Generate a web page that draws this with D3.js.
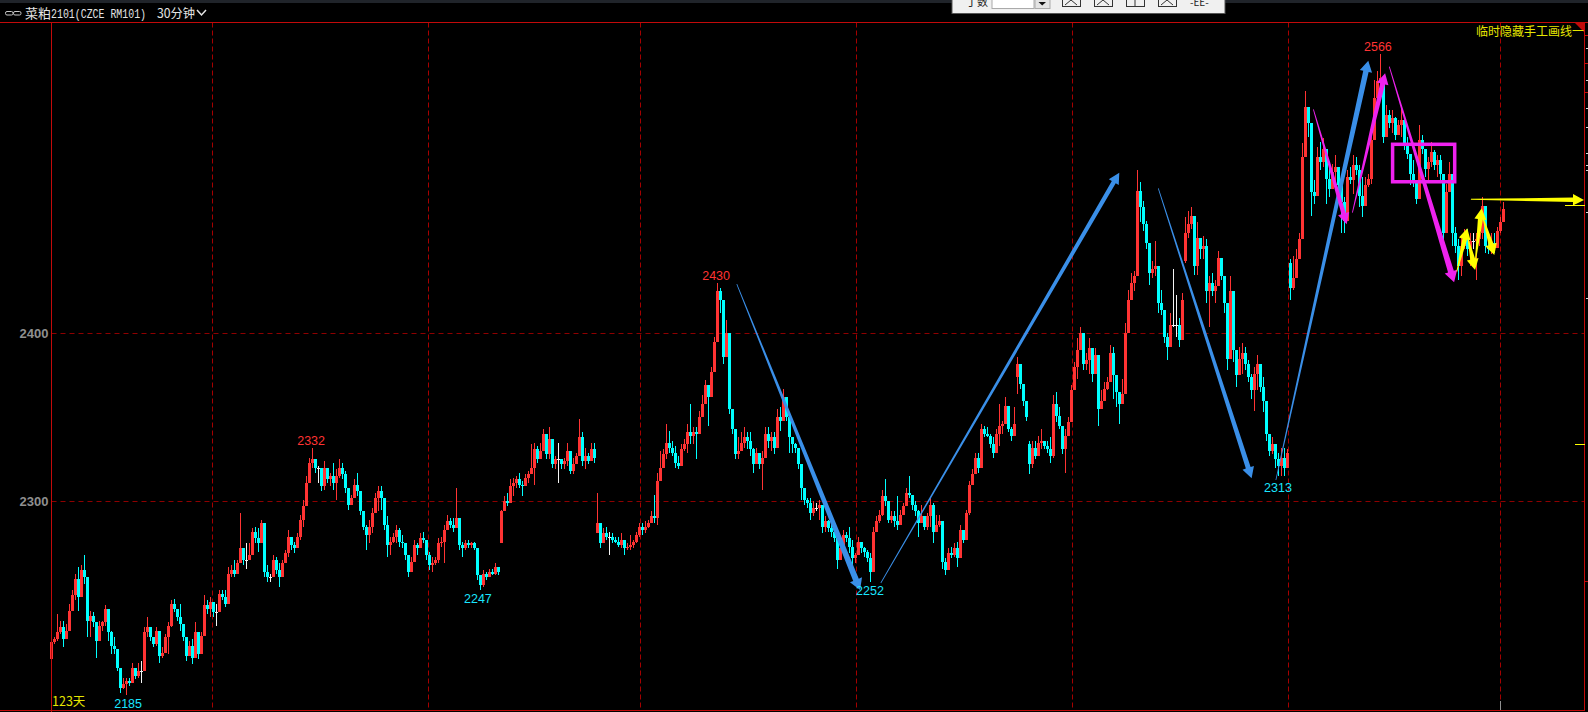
<!DOCTYPE html>
<html><head><meta charset="utf-8">
<script src="https://cdn.jsdelivr.net/npm/d3@7"></script>
<style>html,body{margin:0;padding:0;background:#000;overflow:hidden}svg{display:block}</style>
</head><body><svg id="c" width="1588" height="712"></svg>
<script>
// ---------- candle data, leg by leg (a new leg starts where the price chart jumps) ----------
const legAOpen=2206;
const legAHighs=[2217,2219,2233,2229,2229,2227,2239,2247,2257,2261,2262,2268,2251,2235,2234,2225,2229,2229,2238,2235,2223,2219,2205,2197,2195,2195,2195,2204,2199,2204,2205,2225,2231,2224,2219,2225,2217,2213,2221,2228,2241,2242,2235,2239,2224,2217,2217,2218,2228,2217,2222,2244,2241,2243,2239,2239,2247,2247,2247,2261,2262,2265,2265,2293,2269,2275,2275,2284,2285,2284,2289,2286,2262,2257,2268,2267,2263,2265,2271,2283,2279,2276,2281,2292,2301,2315,2326,2332,2325,2321,2317,2324,2320,2317,2323,2319,
2325,2323,2318,2305,2304,2313,2317,2303,2293,2286,2289,2296,2305,2309,2309,2301,2291,2279,2281,2286,2284,2280,2275,2267,2267,2277,2275,2281,2282,2277,2270,2267,2267,2278,2279,2286,2292,2290,2290,2308,2282,2276,2277,2277,2276,2276,2270,2254,2259,2258,2260,2260,2263,2260];
const legALows=[2204,2215,2217,2221,2213,2219,2227,2237,2241,2235,2251,2251,2219,2219,2225,2207,2217,2223,2226,2217,2209,2209,2199,2186,2188,2185,2190,2194,2194,2195,2192,2204,2219,2217,2213,2214,2204,2207,2211,2209,2225,2234,2229,2223,2217,2205,2209,2203,2211,2206,2215,2223,2233,2231,2231,2226,2241,2241,2237,2239,2255,2255,2259,2267,2262,2260,2265,2275,2275,2270,2281,2255,2252,2252,2257,2257,2249,2260,2263,2267,2271,2269,2273,2277,2285,2302,2313,2320,2317,2311,2306,2307,2311,2309,2307,2301,
2314,2313,2305,2295,2298,2303,2303,2292,2283,2271,2275,2281,2293,2294,2295,2283,2267,2268,2275,2275,2273,2272,2265,2255,2261,2265,2268,2272,2275,2265,2259,2258,2262,2263,2273,2263,2283,2284,2282,2287,2271,2267,2271,2272,2272,2271,2253,2247,2249,2253,2256,2256,2256,2256];
const legACloses=[2216,2218,2222,2225,2218,2223,2235,2244,2254,2243,2259,2255,2229,2232,2228,2217,2226,2228,2236,2222,2214,2212,2201,2189,2191,2193,2192,2201,2196,2199,2199,2222,2225,2219,2215,2223,2208,2210,2219,2226,2239,2236,2231,2227,2219,2208,2214,2207,2222,2209,2220,2238,2236,2240,2234,2234,2245,2243,2239,2257,2259,2257,2263,2272,2265,2265,2268,2282,2278,2275,2287,2258,2255,2255,2265,2259,2255,2263,2269,2279,2274,2272,2279,2289,2297,2311,2323,2325,2320,2320,2309,2320,2313,2315,2311,2315,
2320,2316,2308,2298,2302,2310,2306,2294,2285,2280,2285,2293,2302,2306,2302,2286,2274,2276,2279,2283,2276,2275,2268,2258,2264,2274,2272,2278,2277,2268,2262,2263,2265,2275,2276,2283,2288,2286,2284,2290,2274,2272,2275,2274,2275,2272,2256,2250,2257,2255,2258,2257,2261,2258];

const legBOpen=2275;
const legBHighs=[2295,2303,2305,2313,2314,2315,2317,2312,2316,2318,2334,2335,2333,2335,2343,2340,2344,2328,2327,2335,2325,2326,2335,2325,2326,2329,2349,2341,2332,2329,2335,2335];
const legBLows=[2275,2295,2297,2301,2303,2308,2308,2303,2311,2311,2316,2310,2323,2327,2331,2325,2325,2320,2319,2311,2319,2319,2321,2316,2316,2323,2331,2321,2319,2322,2325,2323];
const legBCloses=[2294,2300,2299,2309,2311,2313,2310,2309,2314,2316,2320,2331,2325,2330,2340,2328,2337,2322,2325,2325,2322,2324,2330,2318,2322,2327,2338,2324,2327,2324,2331,2326];

const legCOpen=2281;
const legCHighs=[2305,2287,2284,2285,2282,2281,2279,2279,2281,2277,2275,2280,2277,2282,2287,
2287,2288,2289,2294,2304,2317,2330,2331,2346,2342,2336,2333,2327,2334,2337,2346,2358,2344,2344,2354,2363,2372,2369,2380,2398,2430,2427,2403,2408,2387,2352,2341,2338,2341,2344,2341,2341,2332,2332,2327,2330,2344,2344,2341,2341,2355,2356,2367,2356,2346,2338,2335,2329,2312,2307,2302,2302,2300,2299,2301,2295,2291,2289,2287,2285,2277,2277,2283,2282,2285,2277,2269,2279,2275,2273,2271,2269,2285,2291,2295,2307,2313,2293,2294,2294,2303,2295,2299,2308,2315,2302,2300,2295,2298,2289,2293,2302,2299,2292,2292,
2283,2266,2272,2273,2275,2276,2286,2279,2295,2312,2319,2329,2329,2346,2345,2344,2340,2338,2343,2358,2348,2362,2350,2344,2356];
const legCLows=[2281,2272,2279,2277,2268,2275,2275,2273,2272,2268,2271,2271,2272,2275,2279,
2280,2281,2284,2288,2287,2286,2315,2320,2325,2329,2327,2320,2319,2325,2330,2329,2334,2334,2325,2346,2350,2360,2345,2370,2388,2412,2412,2382,2393,2352,2340,2325,2325,2330,2332,2331,2327,2317,2323,2319,2307,2332,2332,2330,2328,2340,2342,2352,2348,2329,2329,2329,2319,2301,2298,2296,2289,2291,2294,2289,2281,2282,2282,2279,2276,2260,2266,2277,2276,2269,2261,2263,2271,2269,2267,2264,2252,2268,2285,2287,2291,2297,2287,2287,2285,2283,2287,2293,2299,2302,2295,2291,2279,2289,2283,2283,2285,2275,2283,2285,
2260,2256,2266,2266,2267,2261,2273,2275,2284,2292,2312,2317,2317,2331,2338,2338,2332,2326,2333,2333,2340,2346,2341,2336,2341];
const legCCloses=[2287,2275,2281,2279,2279,2277,2276,2274,2277,2272,2273,2274,2276,2280,2285,
2283,2285,2287,2291,2290,2312,2320,2328,2335,2332,2329,2323,2321,2331,2334,2341,2339,2341,2340,2350,2358,2369,2362,2377,2395,2425,2420,2386,2400,2355,2343,2328,2330,2335,2338,2336,2331,2322,2329,2322,2326,2340,2336,2338,2332,2350,2348,2362,2350,2338,2334,2332,2322,2308,2301,2299,2293,2296,2296,2298,2285,2288,2284,2282,2278,2265,2272,2280,2278,2273,2266,2268,2276,2272,2270,2266,2258,2282,2288,2292,2303,2300,2289,2291,2288,2286,2292,2297,2305,2304,2298,2294,2287,2291,2285,2291,2298,2282,2286,2288,
2264,2259,2269,2268,2272,2266,2283,2277,2293,2310,2316,2326,2320,2343,2340,2339,2334,2329,2340,2345,2346,2357,2343,2339,2346];

const legDOpen=2374;
const legDHighs=[2386,2376,2368,2358];
const legDLows=[2364,2367,2357,2348];
const legDCloses=[2382,2370,2360,2350];

const legEOpen=2334;
const legEHighs=[2336,2336,2336,2339,2343,2336,2336,2338,2363,2365,2356,2343,2343,2350,2369,2383,2397,2404,2397,2388,2397,2390,2391,2370,2366,2371,2374,2393,2392,2373,2363,
2373,2406,2426,2436,2437,2497,2490,2479,2467,2450,2443,2455,2435,2426,2410,2400,2412,2438,2423,2409,2424];
const legELows=[2316,2320,2325,2330,2331,2331,2329,2323,2326,2347,2343,2328,2317,2340,2356,2368,2373,2390,2378,2378,2376,2371,2383,2345,2356,2361,2366,2372,2361,2356,2346,
2359,2368,2406,2421,2425,2456,2466,2461,2450,2429,2433,2434,2412,2411,2394,2384,2400,2404,2398,2392,2406];
const legECloses=[2322,2332,2327,2335,2336,2333,2331,2327,2358,2351,2345,2331,2339,2347,2366,2380,2390,2400,2382,2384,2391,2376,2387,2355,2360,2367,2371,2388,2375,2365,2358,
2364,2400,2420,2430,2434,2485,2475,2465,2454,2436,2438,2440,2418,2414,2398,2392,2405,2405,2405,2396,2420];

const legFOpen=2443;
const legFHighs=[2469,2473,2475,2451,2466,2457,2458,2456,2434,2436,2432,2449,2442,2432,2406,2434,2418,2388,2392,2394,2392,2384,2376,2380,2387,2374,2374,2351,2338,2338,2334,2329,2332,2332,2331];
const legFLows=[2442,2457,2462,2435,2435,2444,2444,2418,2404,2422,2418,2430,2432,2412,2378,2406,2383,2368,2382,2376,2378,2371,2361,2354,2366,2365,2353,2336,2327,2328,2320,2315,2315,2315,2322];
const legFCloses=[2460,2465,2470,2440,2457,2450,2452,2425,2430,2425,2428,2445,2434,2418,2385,2425,2390,2375,2385,2388,2382,2374,2366,2376,2382,2368,2360,2340,2330,2334,2325,2321,2326,2320,2329];

const legGOpen=2442;
const legGHighs=[2444,2446,2450,2460,2513,2544,2534,2513,2491,2511,2514,2516,2509,2501,2501,2506,2493,2489,2481,2497,2499,2506,2505,2500,2493,2493,2495,2519,2551,2556,2566,2529,2536,2533,2533,2529,2527,2535,2521,2517,2503,2503,2489,2524,2518,2509,2505,2514,2509,2506,2506,2491,2489,2502,2475,2463,2456,2458,2462,2462,2460,2460,2460,2463,2481,2458,2458,2460,2460,2463,2469,2478];
const legGLows=[2420,2426,2436,2444,2460,2513,2517,2470,2477,2491,2497,2499,2477,2481,2493,2487,2483,2460,2460,2481,2489,2483,2494,2475,2469,2483,2487,2489,2523,2535,2543,2513,2519,2522,2519,2515,2521,2517,2509,2504,2488,2487,2477,2487,2507,2493,2491,2499,2497,2493,2491,2453,2469,2485,2452,2448,2432,2434,2450,2446,2440,2450,2432,2452,2456,2448,2447,2447,2448,2456,2460,2467];
const legGCloses=[2427,2433,2444,2456,2505,2535,2525,2484,2482,2505,2502,2510,2492,2486,2496,2499,2488,2478,2467,2493,2491,2500,2497,2482,2476,2488,2492,2515,2540,2550,2552,2517,2530,2525,2528,2518,2524,2527,2512,2507,2495,2491,2480,2515,2510,2498,2502,2508,2500,2503,2495,2460,2484,2495,2460,2452,2440,2452,2456,2450,2455,2455,2456,2460,2476,2452,2450,2454,2451,2461,2466,2474];

const legs=[
 [legAOpen,legAHighs,legALows,legACloses],[legBOpen,legBHighs,legBLows,legBCloses],
 [legCOpen,legCHighs,legCLows,legCCloses],[legDOpen,legDHighs,legDLows,legDCloses],
 [legEOpen,legEHighs,legELows,legECloses],[legFOpen,legFHighs,legFLows,legFCloses],
 [legGOpen,legGHighs,legGLows,legGCloses]];

// ---------- axes and annotation data ----------
const priceTicks=[2300,2400];
const gridBars=[53.7,125.7,196.4,268.4,340.4,412.4,483.2];
const highLabels=[[86.7,2332],[221.7,2430],[442.3,2566]];
const lowLabels=[[25.7,2185],[142.3,2247],[273,2252],[409,2313]];
const blueArrows=[[228.6,2429.3,269.7,2247.2,6],[276.6,2251.4,356.1,2495.6,4.5],[369.1,2486.3,400.2,2313.7,5],[408.3,2312.7,439.1,2562.3,5.5]];
const magentaArrows=[[420.8,2533.3,431.9,2464.9,4.5],[433.8,2471.8,444.7,2554.8,5],[446.1,2558.7,467.7,2430.4,6]];
const yellowArrows=[[468.6,2436.7,472.1,2462.5,5],[472.3,2456.7,474.7,2437.7,5],[474.7,2441.8,476.9,2474.4,5],[477.2,2469.4,481.1,2446.6,5],[473.3,2479.8,511,2479.4,4.5]];
const boxBars=[447.2,467.9], boxPrices=[2512.5,2490.2];
const redScaleTicks=[2577.6,2560.9,2543.6,2252.6];
const whiteScaleTicks=[2569.8,2550.8,2534,2522.8,2507.3,2500.2,2497.2,2472.2,2421];
const yellowMarks=[2476.2,2334];
const chartTitle="菜粕", chartCode="2101(CZCE RM101)", period="30分钟", dayCount="123天", hideLabel="临时隐藏手工画线一";

// ---------- build ----------
const candles=[];
legs.forEach(([first,hi,lo,cl])=>{let o=first;
  cl.forEach((c,k)=>{candles.push({o,c,h:Math.max(hi[k],o,c),l:Math.min(lo[k],o,c)});o=c;});});
const svg=d3.select("#c");
const L=51.5,R=1584.5,T=22.5,B=710.5;
const x=d3.scaleLinear().domain([0,484]).range([51,1503]);
const y=d3.scaleLinear().domain([2300,2400]).range([501.3,333.3]);
const RED="#ff3333",CYAN="#00ffff",FRAME="#c20a0a",GRID="#8e0000";
const col=d=>d.c>d.o?RED:d.c<d.o?CYAN:"#f4f4f4";
svg.append("rect").attr("width",1588).attr("height",712).attr("fill","#000");
svg.append("rect").attr("width",1588).attr("height",3).attr("fill","#20242a");

// grid
svg.append("g").selectAll("line").data(priceTicks).join("line")
 .attr("x1",L).attr("x2",R).attr("y1",d=>Math.floor(y(d))+.5).attr("y2",d=>Math.floor(y(d))+.5)
 .attr("stroke",GRID).attr("stroke-dasharray","5,4");
svg.append("g").selectAll("line").data(gridBars).join("line")
 .attr("x1",d=>Math.floor(x(d))+.5).attr("x2",d=>Math.floor(x(d))+.5).attr("y1",T).attr("y2",B)
 .attr("stroke","#a50000").attr("stroke-dasharray","5,3");

// axis labels
const ax=svg.append("g").attr("transform",`translate(${L},0)`)
 .call(d3.axisLeft(y).tickValues(priceTicks).tickFormat(d3.format("d")).tickSize(0).tickPadding(3));
ax.select(".domain").remove();
ax.selectAll("text").attr("fill","#8f8f8f").attr("font-family","Liberation Sans").attr("font-size",13).attr("font-weight","bold");

// candles
const g=svg.append("g").attr("shape-rendering","crispEdges");
g.selectAll("line").data(candles).join("line")
 .attr("x1",(d,i)=>Math.round(x(i))+.5).attr("x2",(d,i)=>Math.round(x(i))+.5)
 .attr("y1",d=>y(d.h)).attr("y2",d=>y(d.l)).attr("stroke",col);
g.selectAll("rect").data(candles).join("rect")
 .attr("x",(d,i)=>Math.round(x(i))-1).attr("width",3)
 .attr("y",d=>y(Math.max(d.o,d.c))).attr("height",d=>Math.max(1,Math.abs(y(d.o)-y(d.c))))
 .attr("fill",col);

// hand-drawn tapered arrows
function arrowPath(a){const [i0,p0,i1,p1,w]=a;
  const x0=x(i0),y0=y(p0),x1=x(i1),y1=y(p1);
  const dx=x1-x0,dy=y1-y0,len=Math.hypot(dx,dy),ux=dx/len,uy=dy/len,nx=-uy,ny=ux;
  const hl=Math.min(11,len*.45),hw=w*.5+3.5;
  const bx=x1-ux*hl,by=y1-uy*hl;
  const pt=(px,py,o)=>[px+nx*o,py+ny*o].join(",");
  return "M"+[pt(x0,y0,.4),pt(bx,by,w/2),pt(bx,by,hw),pt(x1,y1,0),pt(bx,by,-hw),pt(bx,by,-w/2),pt(x0,y0,-.4)].join("L")+"Z";}
[[blueArrows,"#3a8fe8"],[magentaArrows,"#ee22ee"],[yellowArrows,"#ffff00"]].forEach(([list,c])=>{
  svg.append("g").selectAll("path").data(list).join("path").attr("d",arrowPath).attr("fill",c);});
svg.append("rect").attr("x",x(boxBars[0])).attr("y",y(boxPrices[0]))
 .attr("width",x(boxBars[1])-x(boxBars[0])).attr("height",y(boxPrices[1])-y(boxPrices[0]))
 .attr("fill","none").attr("stroke","#f022f0").attr("stroke-width",3.5);

// extreme labels
const lab=(data,c,off)=>svg.append("g").selectAll("text").data(data).join("text")
 .attr("x",d=>x(d[0])).attr("y",d=>y(d[1])+off).attr("text-anchor","middle")
 .attr("fill",c).attr("font-family","Liberation Sans").attr("font-size",12.5).text(d=>d[1]);
lab(highLabels,"#ff3333",-3);
lab(lowLabels,"#19e6ff",13);

// frame
const frame=svg.append("g").attr("stroke",FRAME).attr("shape-rendering","crispEdges");
frame.append("line").attr("x1",0).attr("x2",1588).attr("y1",T).attr("y2",T);
frame.append("line").attr("x1",L).attr("x2",L).attr("y1",T).attr("y2",712);
frame.append("line").attr("x1",R).attr("x2",R).attr("y1",T).attr("y2",B);
frame.append("line").attr("x1",0).attr("x2",R).attr("y1",B).attr("y2",B);
svg.append("path").attr("d",`M${R-10},${T}L${R},${T}L${R},${T+10}Z`).attr("fill",FRAME);

// right scale ticks
svg.append("g").attr("shape-rendering","crispEdges").selectAll("line").data(redScaleTicks).join("line")
 .attr("x1",R).attr("x2",1588).attr("y1",d=>Math.round(y(d))+.5).attr("y2",d=>Math.round(y(d))+.5).attr("stroke",FRAME);
svg.append("g").attr("shape-rendering","crispEdges").selectAll("line").data(whiteScaleTicks).join("line")
 .attr("x1",1586).attr("x2",1588).attr("y1",d=>Math.round(y(d))+.5).attr("y2",d=>Math.round(y(d))+.5).attr("stroke","#dddddd");
svg.append("g").attr("shape-rendering","crispEdges").selectAll("line").data(yellowMarks).join("line")
 .attr("x1",(d,i)=>i?1575:1565).attr("x2",R).attr("y1",d=>Math.round(y(d))+.5).attr("y2",d=>Math.round(y(d))+.5).attr("stroke","#ffff00");
svg.append("line").attr("x1",Math.floor(x(gridBars[6]))+.5).attr("x2",Math.floor(x(gridBars[6]))+.5).attr("y1",701).attr("y2",710).attr("stroke","#909090");

// header
const cjk="'Noto Sans CJK SC'";
svg.append("g").attr("fill","none").attr("stroke","#c8c8c8").selectAll("rect").data([5,13]).join("rect")
 .attr("x",d=>d+.5).attr("y",11.5).attr("width",7.5).attr("height",3.5).attr("rx",1.5);
const hdr=(s,px,fam,fs,sx)=>svg.append("text").attr("transform",`translate(${px},18) scale(${sx},1)`).attr("fill","#e4e4e4").attr("font-family",fam).attr("font-size",fs).text(s);
hdr(chartTitle,25,cjk,13,1);
hdr(chartCode,51,"Liberation Mono",12,.825);
hdr(period,157,cjk,12.5,.98);
svg.append("path").attr("d","M197,10L201.5,15L206,10").attr("fill","none").attr("stroke","#e4e4e4").attr("stroke-width",1.5);
svg.append("text").attr("x",52).attr("y",705.5).attr("fill","#e6e600").attr("font-family",cjk).attr("font-size",12.5).text(dayCount);
svg.append("text").attr("x",1584).attr("y",36).attr("text-anchor","end").attr("fill","#e6e600").attr("font-family",cjk).attr("font-size",12).text(hideLabel);

// toolbar dialog clipped by the window top
const tb=svg.append("g");
tb.append("rect").attr("x",952).attr("y",-2).attr("width",273).attr("height",15.5).attr("fill","#f0f0f0").attr("stroke","#555");
tb.append("text").attr("x",966).attr("y",6).attr("fill","#222").attr("font-family",cjk).attr("font-size",11).text("丁数");
tb.append("rect").attr("x",992).attr("y",-2).attr("width",42).attr("height",10.5).attr("fill","#fff").attr("stroke","#aaa");
tb.append("rect").attr("x",1035).attr("y",-2).attr("width",15).attr("height",10.5).attr("fill","#e4e4e4").attr("stroke","#aaa");
tb.append("path").attr("d","M1038.5,2L1046,2L1042.2,5.5Z").attr("fill","#111");
tb.selectAll(".b").data([1062,1094,1126,1158]).join("rect").attr("class","b")
 .attr("x",d=>d+.5).attr("y",-3).attr("width",18).attr("height",9.5).attr("fill","#f0f0f0").attr("stroke","#333");
tb.selectAll(".g").data([1062,1094,1158]).join("path").attr("class","g")
 .attr("d",d=>`M${d+3},5L${d+9},0L${d+15},5`).attr("fill","none").attr("stroke","#333");
tb.append("line").attr("x1",1135).attr("x2",1135).attr("y1",0).attr("y2",6).attr("stroke","#333");
tb.append("text").attr("x",1190).attr("y",6).attr("fill","#222").attr("font-family",cjk).attr("font-size",10).text("-EE-");
</script></body></html>
